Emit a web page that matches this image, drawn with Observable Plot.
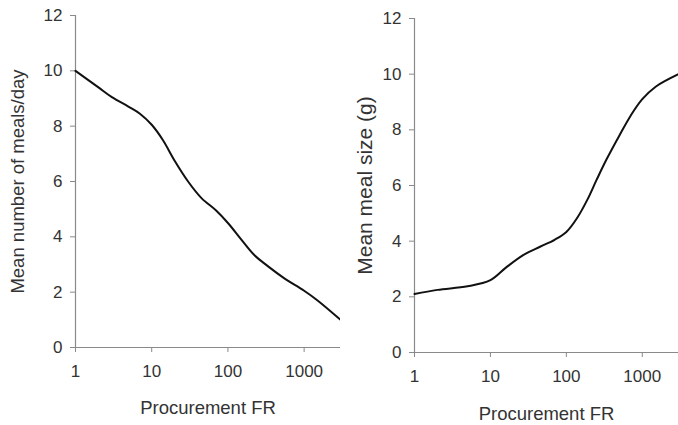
<!DOCTYPE html>
<html>
<head>
<meta charset="utf-8">
<script src="https://cdn.jsdelivr.net/npm/d3@7"></script>
<script src="https://cdn.jsdelivr.net/npm/@observablehq/plot@0.6"></script>
<style>
  html, body { margin: 0; padding: 0; background: #fff; }
  #wrap { position: relative; width: 678px; height: 425px; overflow: hidden; }
  #left, #right { position: absolute; top: 0; }
  #left { left: 0; }
  #right { left: 340px; }
</style>
</head>
<body>
<div id="wrap"><div id="left"></div><div id="right"></div></div>
<script>
// Procurement FR (x, log scale)
const frLeft = [1, 2, 3, 5, 7, 10, 14, 20, 30, 45, 70, 100, 150, 220, 330, 550, 1000, 1500, 3000];
// Mean number of meals/day
const mealsPerDay = [10, 9.4, 9.05, 8.7, 8.45, 8.05, 7.5, 6.75, 6.0, 5.4, 4.95, 4.5, 3.9, 3.35, 2.95, 2.5, 2.05, 1.7, 1.0];

const frRight = [1, 2, 5, 10, 16, 27, 45, 70, 100, 140, 190, 250, 340, 500, 700, 1000, 1500, 3000];
// Mean meal size (g)
const mealSize = [2.1, 2.25, 2.38, 2.6, 3.05, 3.5, 3.8, 4.05, 4.33, 4.85, 5.5, 6.2, 6.95, 7.8, 8.5, 9.1, 9.55, 10.0];

const xTicks = [1, 10, 100, 1000];
const yTicks = [0, 2, 4, 6, 8, 10, 12];
const xLabel = "Procurement FR";
const yLabelLeft = "Mean number of meals/day";
const yLabelRight = "Mean meal size (g)";

const axisGray = "#8a8a8a";
const textColor = "#333";
const font = "'Liberation Sans', Arial, sans-serif";
const fs = 17;

function panel(xs, ys, yLabel, opts) {
  const data = xs.map((x, i) => ({x, y: ys[i]}));
  return Plot.plot({
    width: opts.width,
    height: 425,
    marginLeft: opts.marginLeft,
    marginRight: 0,
    marginTop: opts.marginTop,
    marginBottom: opts.marginBottom,
    x: {type: "log", domain: [1, 3000]},
    y: {domain: [0, 12]},
    style: {fontFamily: font, fontSize: fs + "px", color: textColor, background: "#fff", overflow: "visible"},
    marks: [
      Plot.ruleX([1], {stroke: axisGray, strokeWidth: 1.2}),
      Plot.ruleY([0], {stroke: axisGray, strokeWidth: 1.2}),
      Plot.axisY({ticks: yTicks, tickSize: 5, tickPadding: 8, stroke: axisGray, fill: textColor, fontSize: fs, label: null}),
      Plot.axisX({ticks: xTicks, tickFormat: d => String(d), tickSize: 5, tickPadding: opts.xTickPadding,
        stroke: axisGray, fill: textColor, fontSize: fs, label: null}),
      Plot.text([xLabel], {frameAnchor: "bottom", textAnchor: "middle", lineAnchor: "middle", dy: opts.xLabelDy, fontSize: 18.5, fill: textColor}),
      Plot.text([yLabel], {frameAnchor: "left", textAnchor: "middle", lineAnchor: "middle", rotate: -90, dx: opts.yLabelDx, fontSize: opts.yLabelSize, fill: textColor}),
      Plot.line(data, {x: "x", y: "y", curve: "catmull-rom", stroke: "#111", strokeWidth: 2})
    ]
  });
}

document.getElementById("left").appendChild(panel(frLeft, mealsPerDay, yLabelLeft,
  {width: 340, marginLeft: 75, marginTop: 15, marginBottom: 78, xTickPadding: 12, xLabelDy: 61, yLabelDx: -57, yLabelSize: 18.5}));
document.getElementById("right").appendChild(panel(frRight, mealSize, yLabelRight,
  {width: 338, marginLeft: 74, marginTop: 18, marginBottom: 73, xTickPadding: 12, xLabelDy: 62, yLabelDx: -49, yLabelSize: 21}));
</script>
</body>
</html>
